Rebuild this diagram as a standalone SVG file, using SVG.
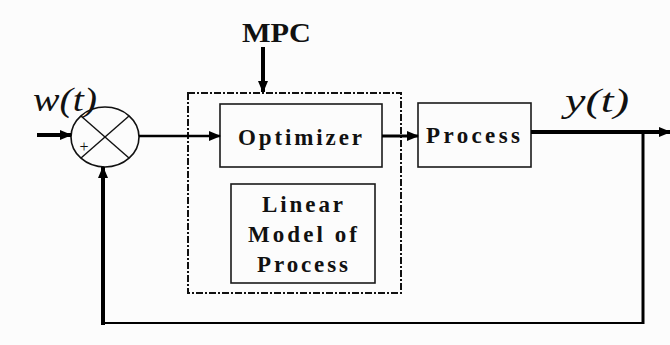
<svg xmlns="http://www.w3.org/2000/svg" width="670" height="345" viewBox="0 0 670 345">
  <style>
    .box { fill: none; stroke: #1a1a1a; stroke-width: 1.6; }
    .wire { fill: none; stroke: #000; stroke-linecap: butt; }
  </style>
  <defs>
    <marker id="arrow" markerUnits="userSpaceOnUse" markerWidth="12" markerHeight="10" refX="11" refY="5" orient="auto">
      <path d="M0,0 L12,5 L0,10 Z" fill="#000"/>
    </marker>
  </defs>

  <rect width="670" height="345" fill="#fcfcfc"/>

  <!-- summing junction -->
  <g id="sum">
    <ellipse cx="105" cy="137" rx="34" ry="30" fill="none" stroke="#111" stroke-width="1.6"/>
    <line x1="81" y1="116" x2="129" y2="158" stroke="#111" stroke-width="1.4"/>
    <line x1="129" y1="116" x2="81" y2="158" stroke="#111" stroke-width="1.4"/>
    <text x="84" y="152" font-family="Liberation Serif, DejaVu Serif, serif" font-size="16" text-anchor="middle" fill="#111">+</text>
  </g>

  <!-- block labels share one serif bold face -->
  <g font-family="Liberation Serif, DejaVu Serif, serif" font-weight="bold" font-size="23" fill="#111">
    <g id="mpc">
      <rect x="188" y="93" width="213" height="200" fill="none" stroke="#111" stroke-width="2" stroke-dasharray="7,2,2,2"/>
      <text x="242" y="42" font-size="27" textLength="69" lengthAdjust="spacingAndGlyphs">MPC</text>
    </g>

    <g id="optimizer">
      <rect class="box" x="220" y="104" width="162" height="63"/>
      <text x="238" y="145" textLength="124" lengthAdjust="spacing">Optimizer</text>
    </g>

    <g id="linear-model">
      <rect class="box" x="231" y="184" width="144" height="99"/>
      <text x="262" y="212" textLength="81" lengthAdjust="spacing">Linear</text>
      <text x="248" y="242" textLength="109" lengthAdjust="spacing">Model of</text>
      <text x="257" y="272" textLength="91" lengthAdjust="spacing">Process</text>
    </g>

    <g id="process">
      <rect class="box" x="418" y="103" width="113" height="64"/>
      <text x="426" y="143" textLength="94" lengthAdjust="spacing">Process</text>
    </g>
  </g>

  <!-- signal labels -->
  <g id="labels" font-family="Liberation Serif, DejaVu Serif, serif" font-style="italic" font-size="33" fill="#111">
    <text x="33" y="111" textLength="64" lengthAdjust="spacingAndGlyphs">w(t)</text>
    <text x="565" y="112" textLength="64" lengthAdjust="spacingAndGlyphs">y(t)</text>
  </g>

  <g id="connectors">
    <line class="wire" x1="37" y1="135" x2="71" y2="135" stroke-width="4" marker-end="url(#arrow)"/>
    <line class="wire" x1="263" y1="47" x2="263" y2="92" stroke-width="4" marker-end="url(#arrow)"/>
    <line class="wire" x1="139" y1="136" x2="220" y2="136" stroke-width="2.5" marker-end="url(#arrow)"/>
    <line class="wire" x1="382" y1="136" x2="418" y2="136" stroke-width="3" marker-end="url(#arrow)"/>
    <line class="wire" x1="531" y1="132" x2="670" y2="132" stroke-width="4" marker-end="url(#arrow)"/>
    <line class="wire" x1="643" y1="132" x2="643" y2="324" stroke-width="3"/>
    <line class="wire" x1="644" y1="323" x2="103" y2="323" stroke-width="2"/>
    <line class="wire" x1="103" y1="325" x2="103" y2="167" stroke-width="4" marker-end="url(#arrow)"/>
  </g>
</svg>
